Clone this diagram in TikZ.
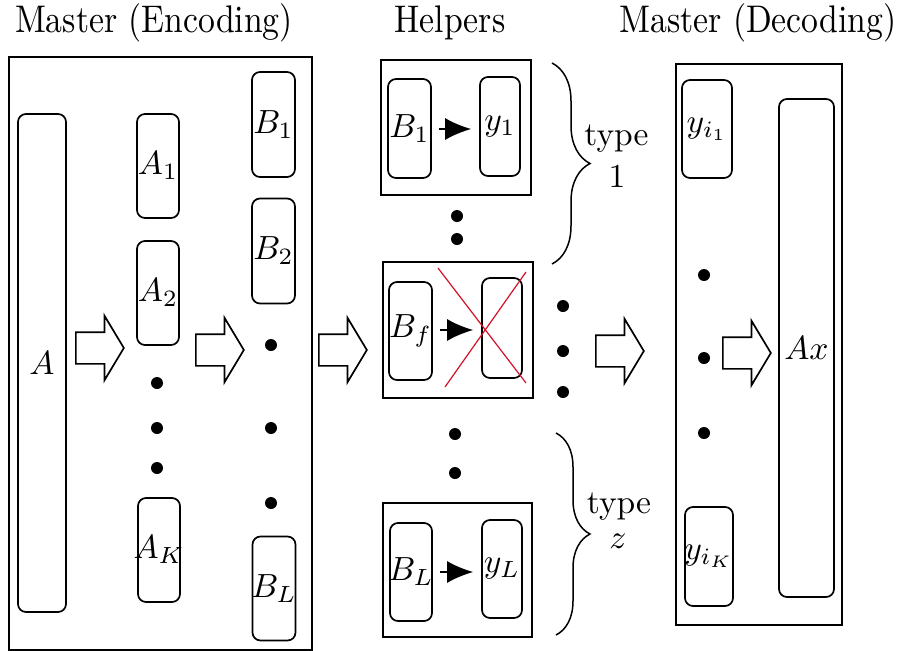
\documentclass[tikz,border=0pt]{standalone}
\usetikzlibrary{shapes.arrows,arrows.meta,decorations.pathreplacing}
\definecolor{xred}{RGB}{212,16,40}
\begin{document}
\begin{tikzpicture}[x=1pt,y=-1pt,
  frame/.style={draw,line width=1.7pt,inner sep=0pt},
  rbox/.style={draw,line width=1.7pt,rounded corners=8pt,inner sep=0pt},
  lbl/.style={inner sep=0pt,scale=3.35},
  ttl/.style={inner sep=0pt,xscale=3.37,yscale=3.85,anchor=base},
  dot/.style={circle,fill,inner sep=0pt,minimum size=12pt},
  fat/.style={draw,line width=1.7pt,single arrow,inner xsep=0pt,inner ysep=15pt,
    minimum width=0pt,minimum height=48pt,anchor=tail,
    single arrow head extend=16.5pt,single arrow tip angle=118},
  flow/.style={line width=1.7pt,-{Latex[length=26pt,width=22pt]},
    shorten <=7pt,shorten >=8pt},
  brc/.style={line width=1.5pt,decorate},
  cross/.style={xred,line width=1.2pt}]
\useasboundingbox (0,0) rectangle (903,651);

% titles
\node[ttl] (tEnc) at (154,32) {Master (Encoding)};
\node[ttl] (tHel) at (450,32) {Helpers};
\node[ttl] (tDec) at (758,32) {Master (Decoding)};

% ---------- encoding master ----------
\node[frame,minimum width=303pt,minimum height=593pt] (enc) at (160.5,353.5) {};
\node[rbox,minimum width=48pt,minimum height=498pt] (A) at (42,363) {};
\node[lbl] (lA) at (A) {$A$};

\node[rbox,minimum width=42pt,minimum height=104pt] (A1) at (158,166) {};
\node[lbl] (lA1) at (A1) {$A_1$};
\node[rbox,minimum width=42pt,minimum height=104pt] (A2) at (158,293) {};
\node[lbl] (lA2) at (A2) {$A_2$};
\node[dot] (ad1) at (157,383) {};
\node[dot] (ad2) at (157,428) {};
\node[dot] (ad3) at (157,468) {};
\node[rbox,minimum width=42pt,minimum height=104pt] (AK) at (159,550) {};
\node[lbl] (lAK) at (AK) {$A_K$};

\node[rbox,minimum width=43pt,minimum height=105pt] (B1) at (273.5,124.5) {};
\node[lbl] (lB1) at (B1) {$B_1$};
\node[rbox,minimum width=43pt,minimum height=105pt] (B2) at (273.5,251) {};
\node[lbl] (lB2) at (B2) {$B_2$};
\node[dot] (bd1) at (271,345) {};
\node[dot] (bd2) at (271,428) {};
\node[dot] (bd3) at (271,503) {};
\node[rbox,minimum width=43pt,minimum height=104pt] (BL) at (274,588.5) {};
\node[lbl] (lBL) at (BL) {$B_L$};

\node[fat] (f1) at (75,348) {};
\node[fat] (f2) at (195,350) {};
\node[fat] (f3) at (318,350) {};

% ---------- helpers ----------
\node[frame,minimum width=150pt,minimum height=135pt] (H1) at (456,127.5) {};
\node[rbox,minimum width=43pt,minimum height=99pt] (hB1) at (409.5,128.5) {};
\node[lbl] (lhB1) at (hB1) {$B_1$};
\node[rbox,minimum width=40pt,minimum height=99pt] (hy1) at (500,126.5) {};
\node[lbl] (lhy1) at (hy1) {$y_1$};
\draw[flow] (hB1.east |- 0,129) coordinate (s1) -- (hy1.west |- 0,129) coordinate (e1);

\node[dot] (hd1) at (457,216) {};
\node[dot] (hd2) at (457,239) {};

\node[frame,minimum width=150pt,minimum height=136pt] (Hf) at (458,330) {};
\node[rbox,minimum width=43pt,minimum height=98pt] (hBf) at (410.5,331) {};
\node[lbl] (lhBf) at (hBf) {$B_f$};
\node[rbox,minimum width=40pt,minimum height=100pt] (hyf) at (502,328) {};
\draw[flow] (hBf.east |- 0,330) coordinate (s2) -- (hyf.west |- 0,330) coordinate (e2);
\coordinate (xa) at (438,268);
\coordinate (xb) at (526,383);
\coordinate (xc) at (526,272);
\coordinate (xd) at (445,387);
\draw[cross] (xa) -- (xb);
\draw[cross] (xc) -- (xd);

\node[dot] (hd3) at (455,434) {};
\node[dot] (hd4) at (455,473) {};

\node[frame,minimum width=149pt,minimum height=134pt] (HL) at (457.5,570) {};
\node[rbox,minimum width=42pt,minimum height=98pt] (hBL) at (411,572) {};
\node[lbl] (lhBL) at (hBL) {$B_L$};
\node[rbox,minimum width=40pt,minimum height=98pt] (hyL) at (502,569) {};
\node[lbl] (lhyL) at (hyL) {$y_L$};
\draw[flow] (hBL.east |- 0,572) coordinate (s3) -- (hyL.west |- 0,572) coordinate (e3);

\node[dot] (md1) at (563,306) {};
\node[dot] (md2) at (563,351) {};
\node[dot] (md3) at (563,392) {};

% groups of helper types
\coordinate (g1t) at (552,63);
\coordinate (g1b) at (552,264);
\draw[brc,decoration={brace,amplitude=38pt}] (g1t) -- (g1b);
\node[lbl,anchor=base] (ty1) at (616.5,145) {type};
\node[lbl,anchor=base] (n1) at (617,187) {$1$};
\coordinate (g2t) at (556,433);
\coordinate (g2b) at (556,635);
\draw[brc,decoration={brace,amplitude=34pt}] (g2t) -- (g2b);
\node[lbl,anchor=base] (ty2) at (619,513) {type};
\node[lbl,anchor=base] (nz) at (618,548) {$z$};

\node[fat] (f4) at (595,351) {};

% ---------- decoding master ----------
\node[frame,minimum width=166pt,minimum height=561pt] (dec) at (759,344.5) {};
\node[rbox,minimum width=50pt,minimum height=98pt] (yi1) at (707,129) {};
\node[lbl] (lyi1) at (yi1) {$y_{i_1}$};
\node[dot] (dd1) at (704,275) {};
\node[dot] (dd2) at (704,358) {};
\node[dot] (dd3) at (704,433) {};
\node[rbox,minimum width=48pt,minimum height=99pt] (yiK) at (709,556.5) {};
\node[lbl] (lyiK) at (yiK) {$y_{i_K}$};
\node[rbox,minimum width=55pt,minimum height=498pt] (Ax) at (806.5,348) {};
\node[lbl] (lAx) at (Ax) {$Ax$};
\node[fat] (f5) at (722,353) {};
\end{tikzpicture}
\end{document}
